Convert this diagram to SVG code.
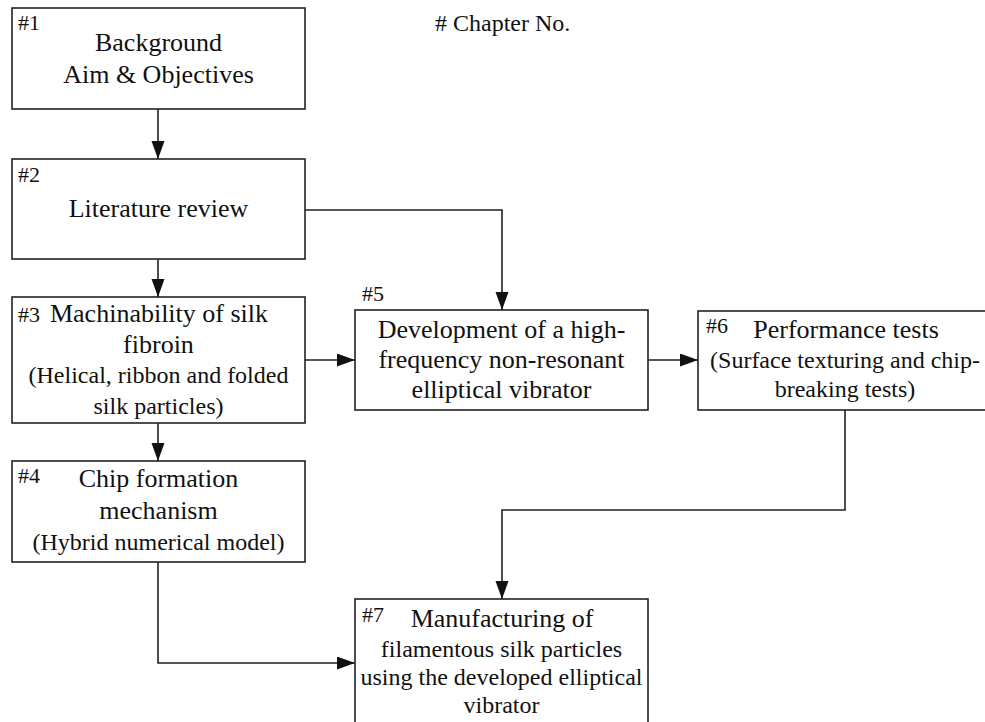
<svg xmlns="http://www.w3.org/2000/svg" width="985" height="722" viewBox="0 0 985 722">
<style>
.box{fill:#fff;stroke:#222;stroke-width:1.6}
text{font-family:'Liberation Serif','Times New Roman',serif !important;fill:#111}
svg #node1 text,svg #node2 text,svg #node3 text,svg #node4 text,svg #node5 text,svg #node6 text,svg #node7 text{font-family:'Liberation Serif','Times New Roman',serif !important}
.t{font-size:26px;text-anchor:middle}
.s{font-size:24px}
.n{font-size:22px}
.c{fill:none;stroke:#222;stroke-width:1.6}
</style>
<defs>
<marker id="ah" markerUnits="userSpaceOnUse" markerWidth="18" markerHeight="14" refX="18" refY="6.5" orient="auto">
<path d="M0,0 L18,6.5 L0,13 Z" fill="#111"/>
</marker>
</defs>
<rect width="985" height="722" fill="#fff"/>
<text x="435" y="31" style="font-size:24px"># Chapter No.</text>
<g id="connectors">
<path class="c" d="M158,109 V159" marker-end="url(#ah)"/>
<path class="c" d="M158,259 V297" marker-end="url(#ah)"/>
<path class="c" d="M158,423 V461" marker-end="url(#ah)"/>
<path class="c" d="M305,210 H502 V310" marker-end="url(#ah)"/>
<path class="c" d="M305,360 H355" marker-end="url(#ah)"/>
<path class="c" d="M648,360 H698" marker-end="url(#ah)"/>
<path class="c" d="M845,410 V510 H502 V599" marker-end="url(#ah)"/>
<path class="c" d="M158,562 V663 H355" marker-end="url(#ah)"/>
</g>
<g id="node1">
<rect class="box" x="12" y="8" width="293" height="101"/>
<text class="n" x="18" y="30" style="font-family:'Liberation Serif',serif !important">#1</text>
<text class="t" x="158.5" y="51" style="font-family:'Liberation Serif',serif !important">Background</text>
<text class="t" x="158.5" y="83" style="font-family:'Liberation Serif',serif !important">Aim &amp; Objectives</text>
</g>
<g id="node2">
<rect class="box" x="12" y="159" width="293" height="100"/>
<text class="n" x="18" y="182">#2</text>
<text class="t" x="158.5" y="217">Literature review</text>
</g>
<g id="node3">
<rect class="box" x="12" y="297" width="293" height="126"/>
<text class="n" x="18" y="322">#3</text>
<text class="t" x="159" y="322">Machinability of silk</text>
<text class="t" x="158.5" y="353">fibroin</text>
<text class="t s" x="158.5" y="383">(Helical, ribbon and folded</text>
<text class="t s" x="158.5" y="414">silk particles)</text>
</g>
<g id="node4">
<rect class="box" x="12" y="461" width="293" height="101"/>
<text class="n" x="18" y="483">#4</text>
<text class="t" x="158.5" y="487">Chip formation</text>
<text class="t" x="158.5" y="519">mechanism</text>
<text class="t s" x="158.5" y="550">(Hybrid numerical model)</text>
</g>
<g id="node5">
<rect class="box" x="355" y="310" width="293" height="100"/>
<text class="n" x="362" y="301">#5</text>
<text class="t" x="501.5" y="338">Development of a high-</text>
<text class="t" x="501.5" y="368">frequency non-resonant</text>
<text class="t" x="501.5" y="398">elliptical vibrator</text>
</g>
<g id="node6">
<rect class="box" x="698" y="311" width="296" height="99"/>
<text class="n" x="706" y="333">#6</text>
<text class="t" x="846" y="338">Performance tests</text>
<text class="t s" x="845" y="368">(Surface texturing and chip-</text>
<text class="t s" x="845" y="397">breaking tests)</text>
</g>
<g id="node7">
<rect class="box" x="355" y="599" width="293" height="131"/>
<text class="n" x="362" y="622">#7</text>
<text class="t" x="502" y="627">Manufacturing of</text>
<text class="t s" x="501.5" y="657">filamentous silk particles</text>
<text class="t s" x="501.5" y="685">using the developed elliptical</text>
<text class="t s" x="501.5" y="713">vibrator</text>
</g>
</svg>
